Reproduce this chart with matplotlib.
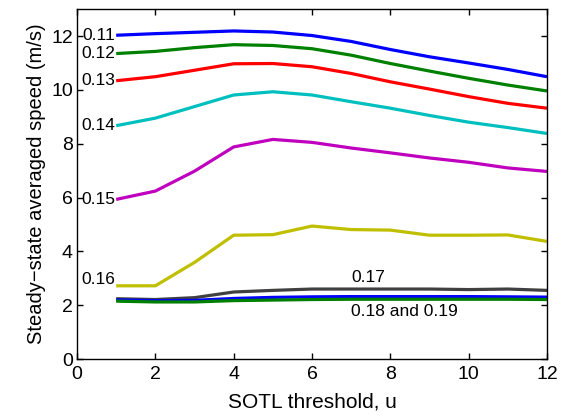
import matplotlib
matplotlib.use("Agg")
import matplotlib.pyplot as plt

u = [1, 2, 3, 4, 5, 6, 7, 8, 9, 10, 11, 12]
labels = ["0.11", "0.12", "0.13", "0.14", "0.15", "0.16", "0.17", "0.18", "0.19"]
s011 = [12.03, 12.09, 12.14, 12.19, 12.15, 12.02, 11.80, 11.50, 11.23, 11.00, 10.76, 10.49]
s012 = [11.35, 11.43, 11.57, 11.68, 11.65, 11.53, 11.29, 10.98, 10.70, 10.43, 10.18, 9.96]
s013 = [10.34, 10.49, 10.73, 10.97, 10.98, 10.86, 10.61, 10.30, 10.03, 9.75, 9.50, 9.32]
s014 = [8.67, 8.95, 9.38, 9.81, 9.93, 9.81, 9.56, 9.32, 9.05, 8.80, 8.60, 8.38]
s015 = [5.93, 6.24, 6.98, 7.88, 8.16, 8.05, 7.84, 7.66, 7.47, 7.31, 7.10, 6.97]
s016 = [2.72, 2.72, 3.59, 4.60, 4.62, 4.94, 4.81, 4.79, 4.60, 4.60, 4.61, 4.37]
s017 = [2.24, 2.21, 2.28, 2.49, 2.55, 2.60, 2.60, 2.60, 2.60, 2.58, 2.60, 2.55]
s018 = [2.20, 2.17, 2.18, 2.25, 2.29, 2.31, 2.32, 2.32, 2.32, 2.32, 2.31, 2.30]
s019 = [2.15, 2.12, 2.12, 2.17, 2.19, 2.21, 2.22, 2.22, 2.22, 2.22, 2.22, 2.21]
series = [s011, s012, s013, s014, s015, s016, s017, s018, s019]
colors = [(0, 0, 1), (0, 0.5, 0), (1, 0, 0), (0, 0.75, 0.75), (0.75, 0, 0.75),
          (0.75, 0.75, 0), (0.25, 0.25, 0.25), (0, 0, 1), (0, 0.5, 0)]

plt.rcParams['font.family'] = ['Liberation Sans', 'DejaVu Sans']

fig = plt.figure(figsize=(5.68, 4.16), dpi=100)
ax = fig.add_axes([0.1356, 0.137, 0.8274, 0.841])

for ys, c in zip(series, colors):
    ax.plot(u, ys, color=c, lw=2.3, solid_capstyle='butt')

# left-side labels for 0.11 - 0.16
label_y = [s011[0], s012[0], s013[0], s014[0], s015[0], 2.95]
for lab, yv in zip(labels[:6], label_y):
    ax.text(u[0] - 0.03, yv, lab, ha='right', va='center', fontsize=12.5)
ax.text(7.0, 3.04, "0.17", ha='left', va='center', fontsize=12.5)
ax.text(7.0, 1.75, "0.18 and 0.19", ha='left', va='center', fontsize=12.5)

ax.set_xlim(0, 12)
ax.set_ylim(0, 13)
ax.set_xticks(range(0, 13, 2))
ax.set_yticks(range(0, 13, 2))
ax.tick_params(direction='in', top=True, right=True, labelsize=14, length=4, width=1, pad=3)
ax.tick_params(axis='x', pad=5)
for sp in ax.spines.values():
    sp.set_linewidth(1.0)
ax.set_xlabel("SOTL threshold, u", fontsize=15, labelpad=7)
ax.set_ylabel("Steady\u2212state averaged speed (m/s)", fontsize=14.5, labelpad=4)

fig.savefig("out.png", dpi=100)
